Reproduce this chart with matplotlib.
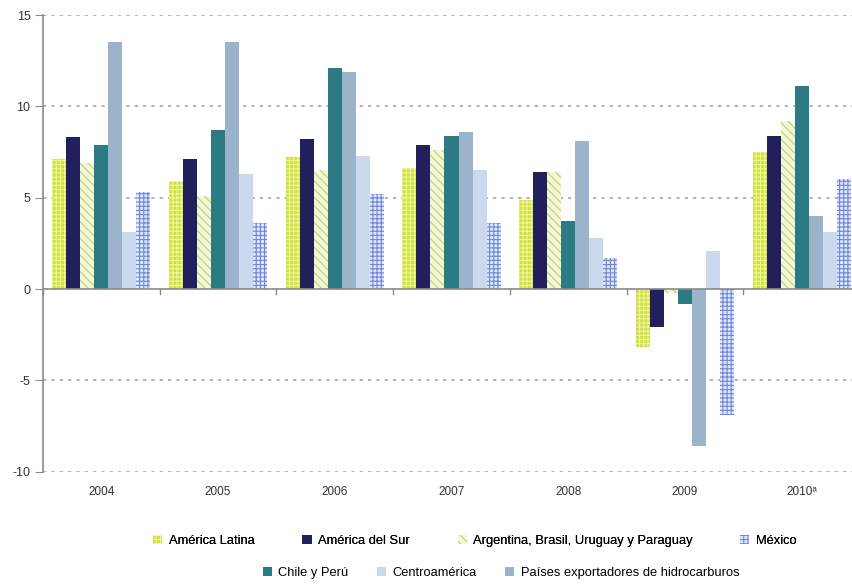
import matplotlib
matplotlib.use("Agg")
import matplotlib.pyplot as plt
import numpy as np

plt.rcParams['font.family'] = ['Liberation Sans', 'DejaVu Sans']
plt.rcParams['hatch.linewidth'] = 0.8

years = ["2004", "2005", "2006", "2007", "2008", "2009", "2010ᵃ"]
series_names = ["América Latina", "América del Sur",
                "Argentina, Brasil, Uruguay y Paraguay", "Chile y Perú",
                "Países exportadores de hidrocarburos", "Centroamérica", "México"]

america_latina = [7.1, 5.9, 7.2, 6.6, 4.9, -3.2, 7.5]
america_sur = [8.3, 7.1, 8.2, 7.9, 6.4, -2.1, 8.4]
argentina_bup = [6.9, 5.1, 6.5, 7.6, 6.4, -0.2, 9.2]
chile_peru = [7.9, 8.7, 12.1, 8.4, 3.7, -0.8, 11.1]
paises_hidro = [13.5, 13.5, 11.9, 8.6, 8.1, -8.6, 4.0]
centroamerica = [3.1, 6.3, 7.3, 6.5, 2.8, 2.1, 3.1]
mexico = [5.3, 3.6, 5.2, 3.6, 1.7, -6.9, 6.0]

series = [america_latina, america_sur, argentina_bup, chile_peru,
          paises_hidro, centroamerica, mexico]
faces = ["#d0e234", "#211f5c", "#f4f7dc", "#2c7a84", "#9bb4cb", "#cbd9ee", "#dfe6f8"]
hatch_cols = ["#eef5a8", "#211f5c", "#bcd65e", "#2c7a84", "#9bb4cb", "#cbd9ee", "#7086d8"]
hatches = ["++++", None, "\\\\\\\\", None, None, None, "++++"]

fig = plt.figure(figsize=(8.52, 5.84), dpi=100)
ax = fig.add_axes([43/852, (584-471.7)/584, 817/852, (471.7-15)/584])

x = np.arange(len(years))
w = 0.12
n = len(series)
bars = []
for i, vals in enumerate(series):
    off = (i - (n-1)/2) * w
    b = ax.bar(x + off, vals, width=w, color=faces[i], edgecolor=hatch_cols[i],
               linewidth=0, hatch=hatches[i], label=series_names[i], zorder=3)
    bars.append(b)

ax.set_xlim(-0.5, len(years) - 0.5)
ax.set_ylim(-10, 15)
ax.set_yticks([-10, -5, 0, 5, 10, 15])
ax.set_yticklabels(["-10", "-5", "0", "5", "10", "15"])
for yv in [-10, -5, 5, 10, 15]:
    ax.axhline(yv, color="#a8a8a8", lw=1.2, ls=(0, (2, 3)), zorder=1)
ax.axhline(0, color="#8a8a8a", lw=1.2, zorder=4)

# category boundary ticks on the zero line
for bnd in np.arange(len(years) + 1) - 0.5:
    ax.plot([bnd, bnd], [0, -0.25], color="#8a8a8a", lw=1.0, zorder=4, clip_on=False)

for s in ["top", "right", "bottom"]:
    ax.spines[s].set_visible(False)
ax.spines["left"].set_color("#8a8a8a")
ax.spines["left"].set_linewidth(1.2)
ax.tick_params(axis="y", length=6, color="#8a8a8a", labelsize=9, labelcolor="#333333", pad=3)
ax.set_xticks(x)
ax.set_xticklabels(years)
ax.tick_params(axis="x", length=0, labelsize=8.5, labelcolor="#333333", pad=10)

order1 = [0, 1, 2, 6]
order2 = [3, 5, 4]
leg1 = fig.legend([bars[i] for i in order1], [series_names[i] for i in order1],
                  loc="center", bbox_to_anchor=(475/852, 1 - 541/584), ncol=4,
                  frameon=False, fontsize=9.3, handlelength=0.7, handleheight=0.7,
                  handletextpad=0.5, columnspacing=3.7)
leg2 = fig.legend([bars[i] for i in order2], [series_names[i] for i in order2],
                  loc="center", bbox_to_anchor=(501/852, 1 - 573/584), ncol=3,
                  frameon=False, fontsize=9.3, handlelength=0.7, handleheight=0.7,
                  handletextpad=0.5, columnspacing=2.2)
fig.add_artist(leg1)

fig.savefig("out.png", dpi=100)
